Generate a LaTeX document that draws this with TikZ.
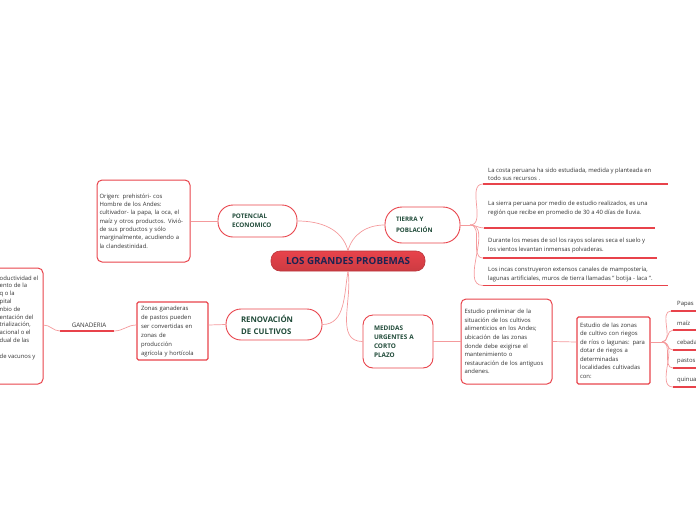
\documentclass[tikz,border=0pt]{standalone}
\usepackage{fontspec}
\setmainfont{Open Sans}
\definecolor{boxc}{HTML}{E8434B}
\definecolor{linkc}{HTML}{F49A9C}
\definecolor{titlec}{HTML}{1F4A38}
\definecolor{centc}{HTML}{1B2452}
\definecolor{txt}{HTML}{333333}
\tikzset{
  body/.style={font=\fontsize{5.9}{8.3}\selectfont, text=txt},
  box/.style={body, draw=boxc, line width=1pt, rounded corners=5pt, align=left, inner ysep=0pt},
  pill/.style={draw=boxc, line width=0.9pt, align=left, text=titlec, inner ysep=0pt},
  conn/.style={draw=linkc, line width=0.7pt},
  uline/.style={draw=boxc, line width=1.1pt},
}
\begin{document}
\begin{tikzpicture}[x=1pt,y=-1pt]
\useasboundingbox (0,0) rectangle (696,520);

% central
\node[draw=boxc!80!black, line width=0.6pt, rounded corners=9pt, top color=boxc, bottom color=boxc!88!black,
  minimum width=154pt, minimum height=20pt, inner sep=0pt, text=centc,
  font=\bfseries\fontsize{9.8}{11}\selectfont] (cen) at (348,261) {LOS GRANDES PROBEMAS};

% main topics
\node[pill, rounded corners=15pt, minimum height=32pt, text width=51pt, inner xsep=14pt,
  font=\bfseries\fontsize{6.3}{9}\selectfont] (pot) at (257.5,221) {POTENCIAL\\ECONOMICO};
\node[pill, rounded corners=17pt, minimum height=36pt, text width=53pt, inner xsep=11pt,
  font=\bfseries\fontsize{6.2}{10.5}\selectfont] (tie) at (422.5,225) {TIERRA Y\\POBLACIÓN};
\node[pill, rounded corners=15pt, minimum height=31pt, text width=66pt, inner xsep=15pt,
  font=\bfseries\fontsize{7.8}{12}\selectfont] (ren) at (274,324.5) {RENOVACIÓN\\DE CULTIVOS};
\node[pill, rounded corners=10pt, minimum height=53pt, text width=48pt, inner xsep=11pt,
  font=\bfseries\fontsize{6.4}{9}\selectfont] (med) at (398,341.5) {MEDIDAS\\URGENTES A\\CORTO\\PLAZO};

% boxes
\node[box, minimum height=82pt, text width=88pt, inner xsep=2.5pt] (ori) at (143.5,221)
 {Origen: prehistóri- cos\\ Hombre de los Andes:\\ cultivador- la papa, la oca, el\\ maíz y otros productos. Vivió-\\ de sus productos y  sólo\\ marginalmente, acudiendo a\\ la clandestinidad.};
\node[box, rounded corners=1.5pt, line width=1.3pt, minimum height=58pt, text width=63pt, inner xsep=4pt,
  font=\fontsize{5.9}{9}\selectfont] (zon) at (172.5,331)
 {Zonas ganaderas\\ de pastos pueden\\ ser convertidas en\\ zonas de\\ producción\\ agrícola y hortícola};
\node[box, minimum height=85pt, text width=84pt, inner xsep=3.5pt, font=\fontsize{5.9}{8.6}\selectfont] (epr) at (506.5,341.5)
 {Estudio preliminar de la\\ situación de los cultivos\\ alimenticios en los Andes;\\ ubicación de las zonas\\ donde debe exigirse el\\ mantenimiento o\\ restauración de los antiguos\\ andenes.};
\node[box, rounded corners=1.5pt, line width=1.3pt, minimum height=67pt, text width=67pt, inner xsep=3pt,
  font=\fontsize{5.9}{8.5}\selectfont] (ezo) at (613.5,350.5)
 {Estudio de las zonas\\ de cultivo con riegos\\ de ríos o lagunas: para\\ dotar de riegos a\\ determinadas\\ localidades cultivadas\\ con:};

% left cut box
\node[box, minimum width=126pt, minimum height=116pt, inner sep=0pt] (lbx) at (-20,326) {};
\node[body, font=\fontsize{5.9}{7.8}\selectfont, align=left, anchor=north west, inner sep=0pt] (ltx) at (-0.5,275.5)
 {oductividad  el\\ ento de la\\ q o la\\ pital\\ nbio de\\ entación del\\ trialización,\\ acional o el\\ dual de las\\ \mbox{}\\ de vacunos y};

% GANADERIA
\node[body, inner sep=0pt, font=\fontsize{6.2}{8}\selectfont] (gan) at (89,325.5) {GANADERIA};
\coordinate (gs) at (60,331);
\coordinate (ge) at (114,331);
\draw[uline] (gs) -- (ge);

% Tierra items
\node[body, anchor=west, align=left, inner sep=0pt] (t1) at (488,174.5)
 {La costa peruana ha sido estudiada, medida y planteada en\\ todo sus recursos .};
\node[body, anchor=west, align=left, inner sep=0pt] (t2) at (488,208.5)
 {La sierra peruana por medio de estudio realizados, es una\\ región  que recibe en promedio de 30 a 40 días de lluvia.};
\node[body, anchor=west, align=left, inner sep=0pt] (t3) at (488,245.5)
 { Durante los meses de sol los rayos solares seca el suelo y\\ los vientos levantan inmensas polvaderas.};
\node[body, anchor=west, align=left, inner sep=0pt] (t4) at (488,274.5)
 {Los incas construyeron extensos canales de mampostería,\\ lagunas artificiales, muros de tierra llamadas " botija - laca ".};
\coordinate (u1s) at (483,184); \coordinate (u1e) at (668,184);
\coordinate (u2s) at (484,228); \coordinate (u2e) at (655,228);
\coordinate (u3s) at (483,258); \coordinate (u3e) at (657,258);
\coordinate (u4s) at (483,285.5); \coordinate (u4e) at (668,285.5);
\foreach \i in {1,2,3,4} \draw[uline] (u\i s) -- (u\i e);
\coordinate (tj) at (470,225);

% leaves
\node[body, anchor=west, inner sep=0pt] (l1) at (677,304) {Papas};
\node[body, anchor=west, inner sep=0pt] (l2) at (677,323) {maíz};
\node[body, anchor=west, inner sep=0pt] (l3) at (677,342) {cebada};
\node[body, anchor=west, inner sep=0pt] (l4) at (677,361) {pastos};
\node[body, anchor=west, inner sep=0pt] (l5) at (677,380) {quinua};
\coordinate (v1s) at (671,311); \coordinate (v1e) at (700,311);
\coordinate (v2s) at (673,330); \coordinate (v2e) at (700,330);
\coordinate (v3s) at (673,350); \coordinate (v3e) at (700,350);
\coordinate (v4s) at (673,368); \coordinate (v4e) at (700,368);
\coordinate (v5s) at (673,387); \coordinate (v5e) at (700,387);
\foreach \i in {1,...,5} \draw[uline] (v\i s) -- (v\i e);
\coordinate (lj) at (662,342);

% connectors
\draw[conn] (cen.north) to[out=105,in=0] (pot.east);
\draw[conn] (cen.north) to[out=75,in=180] (tie.west);
\draw[conn] (cen.south) to[out=-100,in=0] (ren.east);
\draw[conn] (cen.south) to[out=-80,in=180] (med.west);
\draw[conn] (pot.west) -- (ori.east);
\draw[conn] (ren.west) -- ([yshift=6pt]zon.east);
\draw[conn] ([yshift=6pt]zon.west) to[out=180,in=0] (ge);
\draw[conn] (gs) to[out=180,in=0] ([yshift=1pt]lbx.east);
\draw[conn] (med.east) -- (epr.west);
\draw[conn] (epr.east) -- ([yshift=8.5pt]ezo.west);
\draw[conn] ([yshift=8.5pt]ezo.east) -- (lj);
\foreach \i in {1,...,5} \draw[conn] (lj) to[out=0,in=180] (v\i s);
\draw[conn] (tie.east) -- (tj);
\foreach \i in {1,2,3,4} \draw[conn] (tj) to[out=0,in=180] (u\i s);
\end{tikzpicture}
\end{document}
